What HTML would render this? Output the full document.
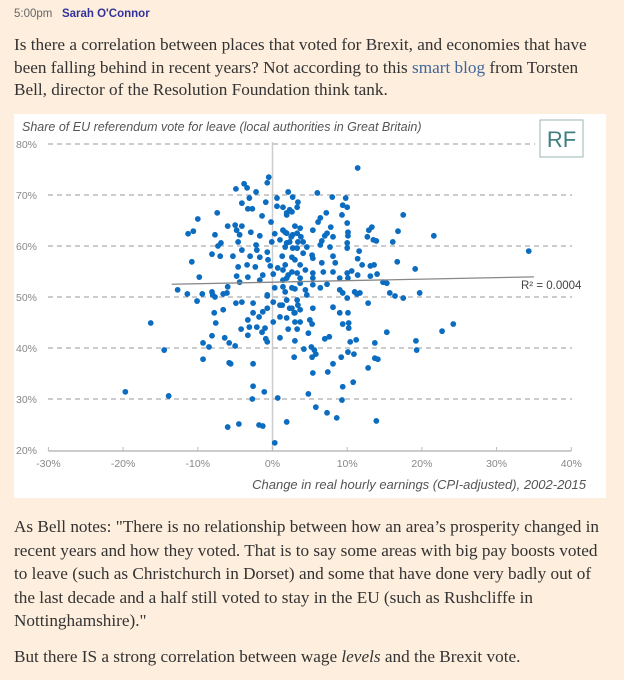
<!DOCTYPE html>
<html><head><meta charset="utf-8"><style>
body{margin:0;background:#fdeedd;width:624px;height:680px;overflow:hidden;position:relative;font-family:"Liberation Serif",serif;color:#333}
.ln{position:absolute;left:14px;font-size:17.2px;white-space:nowrap;line-height:20px}
.hd{position:absolute;top:8px;left:14px;font-family:"Liberation Sans",sans-serif;font-size:11.5px;color:#666}
a{color:#41669a;text-decoration:none}
</style></head><body>
<div class="hd">5:00pm&nbsp;&nbsp;&nbsp;<b style="color:#33339a">Sarah O'Connor</b></div>
<div class="ln" style="top:35px">Is there a correlation between places that voted for Brexit, and economies that have</div>
<div class="ln" style="top:58px">been falling behind in recent years? Not according to this <a>smart blog</a> from Torsten</div>
<div class="ln" style="top:80px">Bell, director of the Resolution Foundation think tank.</div>
<svg id="chart" style="position:absolute;left:0;top:0" width="624" height="680"></svg>
<div class="ln" style="top:517px">As Bell notes: "There is no relationship between how an area’s prosperity changed in</div>
<div class="ln" style="top:541px">recent years and how they voted. That is to say some areas with big pay boosts voted</div>
<div class="ln" style="top:564px">to leave (such as Christchurch in Dorset) and some that have done very badly out of</div>
<div class="ln" style="top:588px">the last decade and a half still voted to stay in the EU (such as Rushcliffe in</div>
<div class="ln" style="top:611px">Nottinghamshire)."</div>
<div class="ln" style="top:647px">But there IS a strong correlation between wage <i>levels</i> and the Brexit vote.</div>
<script>
const xTicks=[-30,-20,-10,0,10,20,30,40];
const yTicks=[20,30,40,50,60,70,80];
const trendX=[-13.5,35];
const trendY=[52.5,53.95];
const pointsX=[-0.5,-0.7,-3.8,-3.4,-4.9,-2.2,2.1,0.6,-3.1,-4.1,-0.9,2.7,-3.3,-2.7,0.6,-7.4,-1.4,1.9,2.6,-10.0,-0.2,-5.0,-4.1,-6.0,-4.8,-10.6,-11.3,-2.9,-7.7,-4.4,-1.7,0.3,1.7,2.5,3.3,-4.6,-6.9,-7.3,-2.2,-0.1,1.0,1.9,3.4,-4.1,-2.1,-0.7,-10.8,-8.1,-7.0,-5.3,-3.0,-1.7,-0.6,1.3,2.6,2.7,-3.4,-2.3,-0.3,0.7,1.7,-4.6,-9.8,-4.8,-3.3,-1.3,0.1,2.1,3.3,-4.4,-1.7,1.4,-12.7,-11.4,-9.4,-8.1,-6.0,-6.1,-7.7,-0.7,0.3,1.7,3.0,
-10.1,-8.0,-6.6,-4.9,-4.1,-2.6,-0.7,0.1,1.0,1.9,2.6,-7.8,-6.6,-2.6,-1.3,-0.7,3.0,-16.3,-7.6,-3.3,-1.8,0.1,1.0,1.9,3.0,-4.2,-3.1,-2.1,-1.0,-1.4,2.1,-3.3,-8.1,-6.4,-0.9,-0.7,1.0,3.0,-9.3,-5.8,-8.5,-5.0,-14.5,-9.3,-5.8,-5.6,-2.6,2.9,-2.6,-1.1,-19.7,-13.9,-2.7,0.7,-6.0,-4.5,-1.8,-1.3,1.9,0.3,
11.4,6.0,8.0,9.8,3.4,9.4,10.0,1.4,2.3,3.3,1.9,7.2,9.3,17.5,6.4,6.1,10.0,13.3,7.8,12.9,5.4,1.4,3.0,3.7,7.3,10.1,16.8,21.6,1.9,2.7,3.8,7.0,8.1,10.1,12.7,13.5,13.9,16.1,6.6,10.0,2.3,4.1,6.4,7.7,10.0,1.7,3.3,4.6,11.6,5.3,8.1,11.4,16.7,4.1,3.0,5.4,6.6,8.4,12.0,13.1,13.6,3.7,1.4,2.6,4.4,5.4,6.8,8.1,10.0,10.6,11.4,13.1,14.0,19.1,1.9,3.7,5.4,9.0,10.1,14.8,15.3,3.7,5.4,7.3,1.4,2.6,4.4,6.4,9.0,11.0,11.7,15.7,16.4,19.7,17.5,9.4,4.6,
12.8,11.3,10.0,8.1,5.4,3.3,3.4,2.3,2.9,3.7,1.3,9.0,10.1,9.4,10.2,10.2,5.0,5.3,3.7,3.3,4.8,15.3,22.7,24.2,7.0,7.6,10.4,11.2,13.7,19.2,19.3,4.2,5.2,5.6,5.8,5.3,8.1,9.2,10.1,10.9,13.7,14.1,12.8,7.4,5.4,10.8,9.4,4.8,9.3,5.8,7.3,8.6,13.9,34.3];
const pointsY=[73.5,72.4,72.2,71.4,71.2,70.6,70.6,69.4,69.4,68.4,68.6,69.6,67.3,67.3,67.8,66.5,65.9,66.5,66.7,65.3,64.7,64.1,63.9,63.9,63.1,62.9,62.4,62.7,62.2,62.2,62.0,62.4,62.7,61.8,62.5,60.8,60.6,60.0,60.2,60.8,61.2,60.6,60.8,59.2,59.2,58.8,56.9,58.4,58.0,58.0,58.0,57.8,57.3,58.0,57.8,59.6,56.3,55.9,56.1,55.7,56.3,55.9,53.9,54.1,53.9,54.3,54.5,54.3,54.7,52.9,53.3,53.3,51.4,50.6,50.6,51.0,52.0,50.8,50.0,50.4,51.8,51.0,51.6,
49.2,50.4,50.6,48.8,49.0,48.8,50.2,49.0,48.4,49.4,47.8,46.9,47.5,46.9,47.1,47.8,46.9,44.9,44.9,45.5,46.1,45.1,46.1,45.9,45.1,43.7,44.1,44.1,43.9,43.1,43.7,42.5,42.4,42.0,41.8,41.2,42.0,41.4,41.0,41.0,40.2,40.4,39.6,37.8,37.1,36.9,36.9,38.2,32.5,31.4,31.4,30.6,30.0,30.2,24.5,25.1,24.9,24.7,25.5,21.4,
75.3,70.4,69.6,69.4,68.6,68.0,67.6,67.6,67.1,67.6,66.1,66.5,66.1,66.1,65.5,64.7,64.5,63.7,63.7,63.1,63.1,63.1,63.9,63.5,62.5,62.7,62.9,62.0,62.5,62.2,61.8,62.0,61.8,62.0,61.8,61.2,61.0,60.8,61.0,60.6,60.8,60.8,60.2,59.8,59.6,59.8,59.6,59.8,59.0,58.2,58.0,57.5,56.9,58.6,57.3,57.6,56.7,56.7,56.3,56.1,56.3,56.3,55.3,54.9,55.3,54.7,54.9,54.9,54.7,55.1,54.3,54.1,54.5,55.5,53.7,53.7,53.7,53.7,53.7,52.9,52.7,52.7,52.4,52.5,52.0,51.8,51.4,51.8,51.4,51.0,50.8,50.8,50.2,50.8,49.8,50.8,50.4,
48.8,50.6,49.8,48.0,47.8,49.4,48.4,47.8,46.9,47.5,48.4,46.9,46.9,44.7,44.9,43.9,45.5,44.7,45.1,43.7,42.9,43.1,43.3,44.7,41.8,42.2,41.2,41.6,41.0,41.4,39.6,39.8,40.2,39.6,38.8,38.2,36.9,38.2,39.2,38.8,38.0,37.8,36.1,35.3,35.1,33.3,32.4,31.0,29.8,28.4,27.3,26.3,25.7,59.0];
const NS='http://www.w3.org/2000/svg';
const svg=document.getElementById('chart');
const X0=272.5,XS=7.47,Y0=450,YS=5.1;
function sx(v){return X0+v*XS;}
function sy(v){return Y0-(v-20)*YS;}
function mk(tag,attrs){const e=document.createElementNS(NS,tag);for(const k in attrs)e.setAttribute(k,attrs[k]);svg.appendChild(e);return e;}
const bg=mk('rect',{x:14,y:114,width:592,height:384,fill:'#ffffff'});


const title=mk('text',{x:22,y:131,'font-family':'Liberation Sans, sans-serif','font-size':'12.5','font-style':'italic',fill:'#555'});
title.textContent='Share of EU referendum vote for leave (local authorities in Great Britain)';


yTicks.forEach(t=>{
  if(t>20){const g=mk('line',{x1:48,x2:t==80?535:572,y1:sy(t),y2:sy(t),stroke:'#999','stroke-width':1,'stroke-dasharray':'5,4'});
  
  }
  const l=mk('text',{x:16,y:sy(t)+4,'font-family':'Liberation Sans, sans-serif','font-size':'10.5',fill:'#888'});
  l.textContent=t+'%';
  
  
});
const vl=mk('line',{x1:sx(0),x2:sx(0),y1:sy(80)-2,y2:sy(20),stroke:'#ccc','stroke-width':1.5});


const ax=mk('line',{x1:sx(-30),x2:sx(40),y1:sy(20)+1,y2:sy(20)+1,stroke:'#bbb','stroke-width':1.5});


xTicks.forEach(t=>{
  const tk=mk('line',{x1:sx(t),x2:sx(t),y1:sy(20)+1,y2:sy(20)-3,stroke:'#bbb'});
  
  
  const l=mk('text',{x:sx(t),y:sy(20)+17,'text-anchor':'middle','font-family':'Liberation Sans, sans-serif','font-size':'10.5',fill:'#888'});
  l.textContent=t+'%';
  
  
});
const xt=mk('text',{x:586,y:489,'text-anchor':'end','font-family':'Liberation Sans, sans-serif','font-size':'13','font-style':'italic',fill:'#555'});
xt.textContent='Change in real hourly earnings (CPI-adjusted), 2002-2015';


for(let i=0;i<pointsX.length;i++){
  const c=mk('circle',{cx:sx(pointsX[i]),cy:sy(pointsY[i]),r:2.9,fill:'#0b6cc0'});
  
  
}
const tl=mk('line',{x1:sx(trendX[0]),y1:sy(trendY[0]),x2:sx(trendX[1]),y2:sy(trendY[1]),stroke:'#888','stroke-width':1.3});


const r2=mk('text',{x:521,y:289,'font-family':'Liberation Sans, sans-serif','font-size':'11.5',fill:'#444'});
r2.textContent='R² = 0.0004';


const rfb=mk('rect',{x:540,y:120,width:43,height:37,fill:'#fff',stroke:'#9bb5b5','stroke-width':1});


const rf=mk('text',{x:561.5,y:147,'text-anchor':'middle','font-family':'Liberation Sans, sans-serif','font-size':'22',fill:'#3f7f80'});
rf.textContent='RF';


</script>
</body></html>
